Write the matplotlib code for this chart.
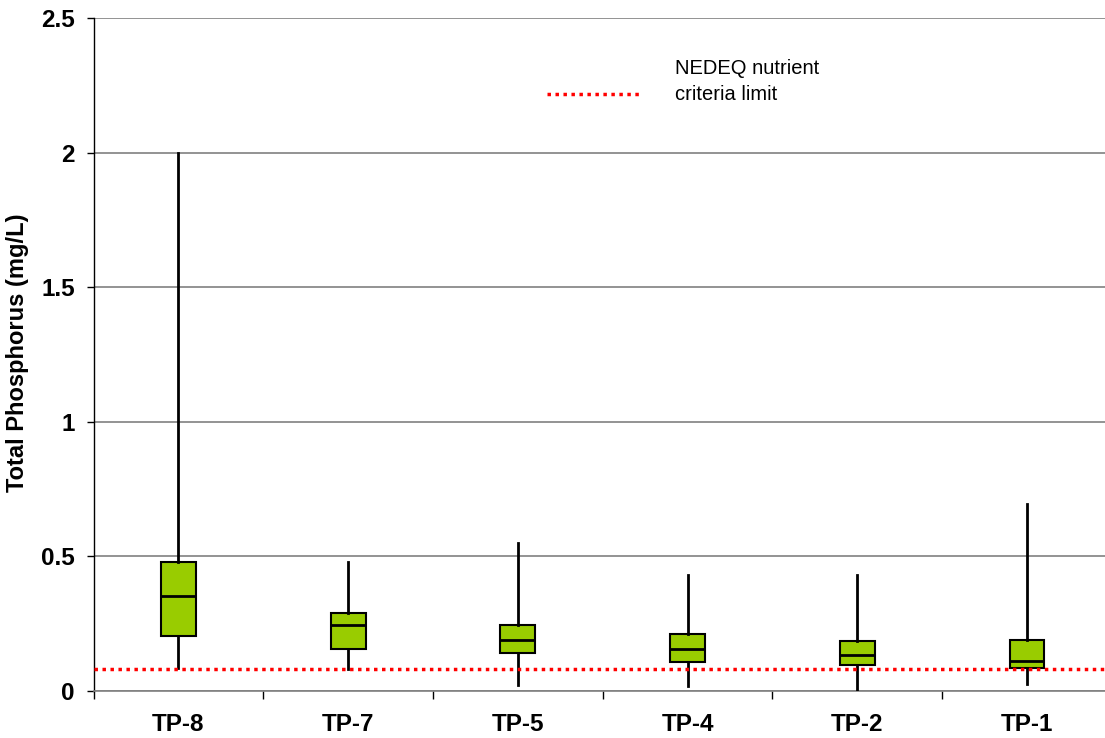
import matplotlib
matplotlib.use("Agg")
import matplotlib.pyplot as plt
from matplotlib.lines import Line2D
from matplotlib.ticker import MultipleLocator, FixedLocator

plt.rcParams["font.family"] = ["Liberation Sans", "DejaVu Sans"]

# Total phosphorus summary statistics per sampling site (mg/L)
sites = ["TP-8", "TP-7", "TP-5", "TP-4", "TP-2", "TP-1"]
whisker_low = [0.087, 0.082, 0.021, 0.020, 0.004, 0.026]
q1 = [0.206, 0.156, 0.142, 0.108, 0.098, 0.085]
median = [0.354, 0.244, 0.188, 0.156, 0.133, 0.111]
q3 = [0.481, 0.291, 0.244, 0.213, 0.187, 0.189]
whisker_high = [2.0, 0.478, 0.551, 0.431, 0.432, 0.693]

criteria_limit = 0.083
criteria_label = "NEDEQ nutrient\ncriteria limit"

y_ticks = [0, 0.5, 1, 1.5, 2, 2.5]
y_tick_labels = ["0", "0.5", "1", "1.5", "2", "2.5"]

fig = plt.figure(figsize=(11.05, 7.38), dpi=100)
ax = fig.add_axes([93.6 / 1105, 47 / 738, (1111.8 - 93.6) / 1105, 673 / 738])

positions = list(range(len(sites)))
stats = [
    dict(whislo=lo, q1=a, med=m, q3=b, whishi=hi, fliers=[], label=s)
    for s, lo, a, m, b, hi in zip(sites, whisker_low, q1, median, q3, whisker_high)
]

ax.bxp(
    stats,
    positions=positions,
    widths=0.205,
    patch_artist=True,
    showcaps=False,
    showfliers=False,
    boxprops=dict(facecolor="#99CC00", edgecolor="black", linewidth=1.5),
    medianprops=dict(color="black", linewidth=2.0),
    whiskerprops=dict(color="black", linewidth=2.0),
    zorder=3,
)

# Criteria limit
ax.axhline(criteria_limit, color="#FF0000", linewidth=2.5,
           linestyle=(0, (1, 1.3)), zorder=5)

ax.set_xlim(-0.5, len(sites) - 0.5)
ax.set_ylim(0, 2.5)

ax.yaxis.set_major_locator(FixedLocator(y_ticks))
ax.set_yticklabels(y_tick_labels)
ax.yaxis.grid(True, color="#808080", linewidth=1.2, zorder=0)
ax.set_axisbelow(True)

ax.xaxis.set_major_locator(FixedLocator(positions))
ax.set_xticklabels(sites)
ax.xaxis.set_minor_locator(MultipleLocator(1, offset=0.5))

ax.tick_params(axis="x", which="major", length=0, pad=16,
               labelsize=17.5)
ax.tick_params(axis="x", which="minor", length=6, width=1, direction="out",
               color="black")
ax.tick_params(axis="y", which="major", length=5, width=1, direction="out",
               pad=8.5, labelsize=17.5, color="black")
for lab in ax.get_xticklabels() + ax.get_yticklabels():
    lab.set_fontweight("bold")

ax.spines["top"].set_visible(False)
ax.spines["right"].set_visible(False)
ax.spines["bottom"].set_color("#808080")
ax.spines["bottom"].set_linewidth(1.2)
ax.spines["left"].set_color("black")
ax.spines["left"].set_linewidth(1.0)

ax.set_ylabel("Total Phosphorus (mg/L)", fontsize=17, fontweight="bold",
              va="center")
ax.yaxis.set_label_coords(-0.0743, 0.502)
ax.set_xlabel("")

# Legend key for the criteria line
key_y = 1 - (94.3 - 18) / 673
x0 = (546.7 - 93.6) / (1111.8 - 93.6)
x1 = (641 - 93.6) / (1111.8 - 93.6)
ax.add_line(Line2D([x0, x1], [key_y, key_y], transform=ax.transAxes,
                   color="#FF0000", linewidth=2.5, linestyle=(0, (1, 1.3)),
                   zorder=6))
ax.text((675 - 93.6) / (1111.8 - 93.6), 1 - (59 - 18) / 673, criteria_label,
        transform=ax.transAxes, fontsize=14.5, va="top", ha="left",
        linespacing=1.45)

fig.savefig("out.png", dpi=100)
